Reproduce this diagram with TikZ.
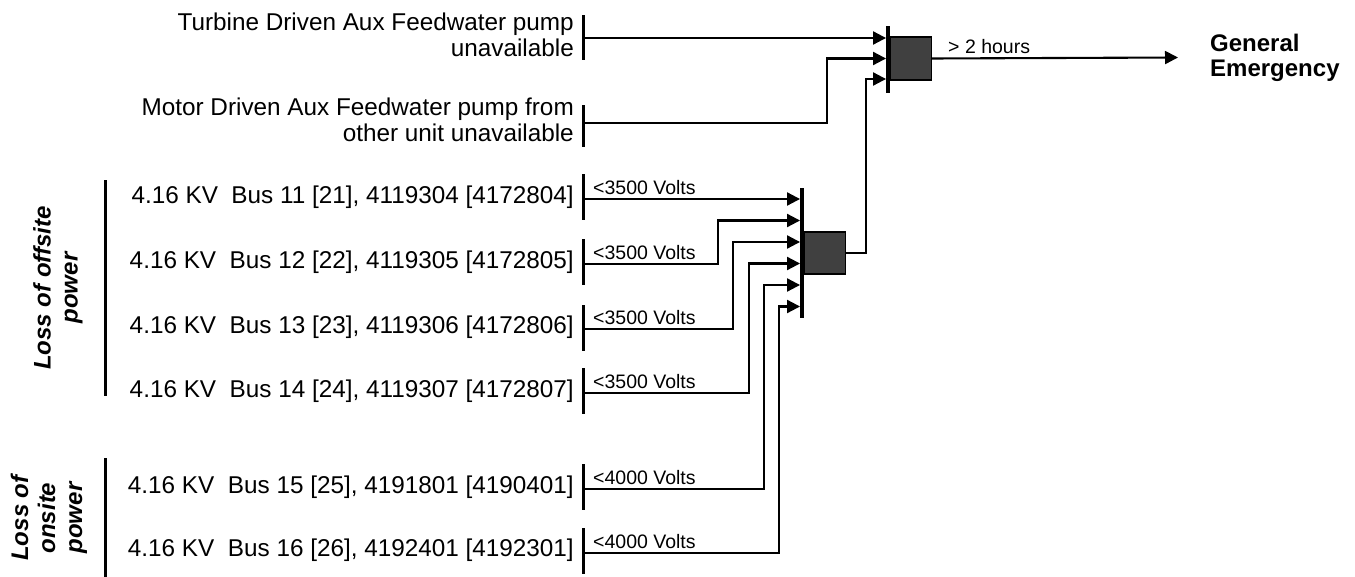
\documentclass[tikz,border=0pt]{standalone}
\usepackage{fontspec}
\setmainfont{Liberation Sans}
\usetikzlibrary{arrows.meta}
\begin{document}
\begin{tikzpicture}[x=1pt,y=-1pt,
  txt/.style={font=\fontsize{24.3}{26}\selectfont, inner sep=0pt},
  grp/.style={font=\bfseries\itshape\fontsize{24}{27}\selectfont, inner sep=0pt, rotate=90, align=center},
  small/.style={font=\fontsize{19.5}{22}\selectfont, inner sep=0pt, anchor=west},
  srcbar/.style={fill=black, inner sep=0pt, minimum width=3pt, minimum height=46pt},
  gatebar/.style={fill=black, inner sep=0pt, minimum width=3.5pt},
  gatebox/.style={draw=black, line width=1.2pt, fill=black!75, inner sep=0pt, minimum width=41pt, minimum height=42pt},
  conn/.style={line width=2.1pt},
  arr/.style={conn, -{Triangle[length=13pt,width=13pt]}},
]
\useasboundingbox (0,0) rectangle (1355,577);

% ---------- top sources ----------
\node[txt, anchor=east, align=right] (turb) at (574,35) {Turbine Driven Aux Feedwater pump\\unavailable};
\node[srcbar, minimum height=45pt] (bturb) at (583,37.5) {};
\coordinate (sturb) at (584.5,38);
\node[txt, anchor=east, align=right] (motor) at (574,120) {Motor Driven Aux Feedwater pump from\\other unit unavailable};
\node[srcbar, minimum height=42pt] (bmotor) at (583,126) {};
\coordinate (smotor) at (584.5,123);

% ---------- bus sources ----------
\node[txt, anchor=east] (t11) at (574,197) {4.16 KV\ \ Bus 11 [21], 4119304 [4172804]};
\node[txt, anchor=east] (t12) at (574,262) {4.16 KV\ \ Bus 12 [22], 4119305 [4172805]};
\node[txt, anchor=east] (t13) at (574,327) {4.16 KV\ \ Bus 13 [23], 4119306 [4172806]};
\node[txt, anchor=east] (t14) at (574,391) {4.16 KV\ \ Bus 14 [24], 4119307 [4172807]};
\node[txt, anchor=east] (t15) at (574,487) {4.16 KV\ \ Bus 15 [25], 4191801 [4190401]};
\node[txt, anchor=east] (t16) at (574,550) {4.16 KV\ \ Bus 16 [26], 4192401 [4192301]};

\node[srcbar] (b11) at (583,197) {};
\node[srcbar] (b12) at (583,262) {};
\node[srcbar] (b13) at (583,328) {};
\node[srcbar] (b14) at (583,391) {};
\node[srcbar] (b15) at (583,487) {};
\node[srcbar] (b16) at (583,551) {};

\coordinate (s11) at (584.5,199);
\coordinate (s12) at (584.5,264);
\coordinate (s13) at (584.5,329);
\coordinate (s14) at (584.5,393);
\coordinate (s15) at (584.5,489);
\coordinate (s16) at (584.5,553);

\node[small] (v11) at (593,188) {<3500 Volts};
\node[small] (v12) at (593,253) {<3500 Volts};
\node[small] (v13) at (593,318) {<3500 Volts};
\node[small] (v14) at (593,382) {<3500 Volts};
\node[small] (v15) at (593,478) {<4000 Volts};
\node[small] (v16) at (593,542) {<4000 Volts};

% ---------- group labels ----------
\node[grp] (offsite) at (58,288) {Loss of offsite\\power};
\node[fill=black, inner sep=0pt, minimum width=3pt, minimum height=216pt] (offbar) at (105,288) {};
\node[grp] (onsite) at (49,518) {Loss of\\onsite\\power};
\node[fill=black, inner sep=0pt, minimum width=3pt, minimum height=120pt] (onbar) at (105,518) {};

% ---------- lower gate ----------
\node[gatebar, minimum height=130pt] (gbar) at (802,253) {};
\node[gatebox, anchor=west] (gbox) at (803.75,253) {};
\coordinate (gi1) at (gbar.west |- s11);
\coordinate (gi2) at ([yshift=-21.5pt]gi1);
\coordinate (gi3) at ([yshift=-43pt]gi1);
\coordinate (gi4) at ([yshift=-64.5pt]gi1);
\coordinate (gi5) at ([yshift=-86pt]gi1);
\coordinate (gi6) at ([yshift=-107.5pt]gi1);

\draw[arr] (s11) -- (gi1);
\draw[arr] (s12) -- (718,264) |- (gi2);
\draw[arr] (s13) -- (733,329) |- (gi3);
\draw[arr] (s14) -- (749,393) |- (gi4);
\draw[arr] (s15) -- (764,489) |- (gi5);
\draw[arr] (s16) -- (779,553) |- (gi6);

% ---------- top gate ----------
\node[gatebar, minimum height=67pt] (tbar) at (888,59.5) {};
\node[gatebox, anchor=west, minimum height=43pt] (tbox) at (889.75,58.5) {};
\coordinate (ti1) at (tbar.west |- sturb);
\coordinate (ti2) at ([yshift=-20.5pt]ti1);
\coordinate (ti3) at ([yshift=-41pt]ti1);

\draw[arr] (sturb) -- (ti1);
\draw[arr] (smotor) -- (827,123) |- (ti2);
\draw[arr] (gbox.east) -- (866,253) |- (ti3);

% ---------- output ----------
\node[font=\bfseries\fontsize{24}{25}\selectfont, inner sep=0pt, anchor=west, align=left] (ge) at (1210,57.5) {General\\Emergency};
\draw[arr] (tbox.east) -- ([xshift=-32pt]ge.west);
\node[small, anchor=south west] (hrs) at (948,54) {> 2 hours};
\end{tikzpicture}
\end{document}
